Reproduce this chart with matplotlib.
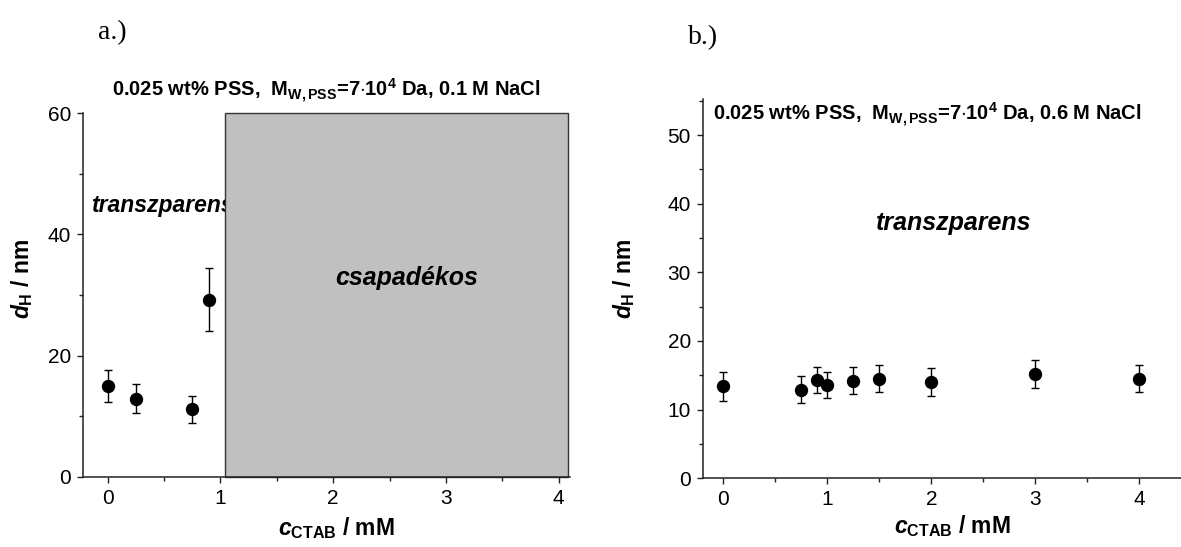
import numpy as np
import matplotlib
matplotlib.use('Agg')
import matplotlib.pyplot as plt
from matplotlib.patches import Rectangle
from matplotlib.ticker import MultipleLocator

plt.rcParams['font.family'] = ['Liberation Sans', 'DejaVu Sans']
plt.rcParams['mathtext.fontset'] = 'custom'
plt.rcParams['mathtext.rm'] = 'Liberation Sans:bold'
plt.rcParams['mathtext.bf'] = 'Liberation Sans:bold'
plt.rcParams['mathtext.it'] = 'Liberation Sans:bold:italic'
plt.rcParams['mathtext.sf'] = 'Liberation Sans:bold'

# --- panel a: 0.1 M NaCl ---
c_a = [0.0, 0.25, 0.75, 0.9]
d_a = [15.0, 12.9, 11.1, 29.2]
err_a = [2.6, 2.4, 2.3, 5.2]
precip_start = 1.04   # beyond this: precipitate (gray region)

# --- panel b: 0.6 M NaCl ---
c_b = [0.0, 0.75, 0.9, 1.0, 1.25, 1.5, 2.0, 3.0, 4.0]
d_b = [13.4, 12.9, 14.3, 13.6, 14.2, 14.5, 14.0, 15.2, 14.5]
err_b = [2.15, 2.0, 1.9, 1.85, 1.95, 2.0, 2.0, 2.0, 2.0]

title_a = r'0.025 wt% PSS,  M$_{\rm W,PSS}$=7$\cdot$10$^{\rm 4}$ Da, 0.1 M NaCl'
title_b = r'0.025 wt% PSS,  M$_{\rm W,PSS}$=7$\cdot$10$^{\rm 4}$ Da, 0.6 M NaCl'
xlab = r'$c_{\rm CTAB}$ / mM'
ylab = r'$d_{\rm H}$ / nm'

fig = plt.figure(figsize=(11.81, 5.47), dpi=100)
W, H = 1181, 547


def px_axes(l, r, b, t):
    return fig.add_axes([l / W, 1 - b / H, (r - l) / W, (b - t) / H])


def style(ax):
    for s in ['top', 'right']:
        ax.spines[s].set_visible(False)
    for s in ['left', 'bottom']:
        ax.spines[s].set_linewidth(1.1)
        ax.spines[s].set_color('#222222')
    ax.tick_params(which='major', direction='out', length=4.5, width=1,
                   labelsize=15, pad=4, color='#222222')
    ax.tick_params(which='minor', direction='out', length=3, width=1,
                   color='#222222')
    ax.xaxis.set_major_locator(MultipleLocator(1))
    ax.xaxis.set_minor_locator(MultipleLocator(0.5))


ebkw = dict(fmt='o', color='black', ms=8.6, capsize=3, elinewidth=1,
            capthick=1, zorder=5)

# ---------------- a.) ----------------
ax1 = px_axes(82.7, 570, 476.7, 113.3)
style(ax1)
ax1.set_xlim(-0.22, 4.1)
ax1.set_ylim(0, 60)
ax1.yaxis.set_major_locator(MultipleLocator(20))
ax1.yaxis.set_minor_locator(MultipleLocator(10))
ax1.add_patch(Rectangle((precip_start, 0), 4.08 - precip_start, 60,
                        facecolor='#c0c0c0', edgecolor='#333333',
                        linewidth=1, zorder=2, clip_on=False))
ax1.errorbar(c_a, d_a, yerr=err_a, **ebkw)
ax1.text(-0.145, 43.7, 'transzparens', fontsize=16.5, fontweight='bold',
         style='italic', va='baseline', ha='left', zorder=1)
ax1.text(2.655, 31.6, 'csapadékos', fontsize=18, fontweight='bold',
         style='italic', va='baseline', ha='center', zorder=3)
ax1.text(0.5, (476.7 - 96.7) / 363.4, title_a, transform=ax1.transAxes,
         fontsize=14.5, fontweight='bold', ha='center', va='baseline')
ax1.set_xlabel(xlab, fontsize=16.5, fontweight='bold')
ax1.set_ylabel(ylab, fontsize=16.5, fontweight='bold')
ax1.xaxis.set_label_coords(0.52, -0.160)
ax1.xaxis.label.set_va('baseline')
ax1.yaxis.set_label_coords(-0.098, 0.545)

# ---------------- b.) ----------------
ax2 = px_axes(702.7, 1181, 478.3, 99.3)
style(ax2)
ax2.set_xlim(-0.2, 4.4)
ax2.set_ylim(0, 55.2)
ax2.yaxis.set_major_locator(MultipleLocator(10))
ax2.yaxis.set_minor_locator(MultipleLocator(5))
ax2.errorbar(c_b, d_b, yerr=err_b, **ebkw)
ax2.text(1.47, 36.1, 'transzparens', fontsize=18, fontweight='bold',
         style='italic', va='baseline', ha='left')
ax2.text((712.7 - 702.7) / 478.3, (478.3 - 121) / 379, title_b,
         transform=ax2.transAxes, fontsize=14.5, fontweight='bold',
         ha='left', va='baseline')
ax2.set_xlabel(xlab, fontsize=16.5, fontweight='bold')
ax2.set_ylabel(ylab, fontsize=16.5, fontweight='bold')
ax2.xaxis.set_label_coords(0.523, -0.144)
ax2.xaxis.label.set_va('baseline')
ax2.yaxis.set_label_coords(-0.137, 0.527)

# panel letters
fig.text(112 / W, 1 - 33 / H, 'a.)', fontsize=20, family='Liberation Serif',
         ha='center', va='center')
fig.text(703 / W, 1 - 38 / H, 'b.)', fontsize=20, family='Liberation Serif',
         ha='center', va='center')

fig.savefig('out.png', dpi=100)
